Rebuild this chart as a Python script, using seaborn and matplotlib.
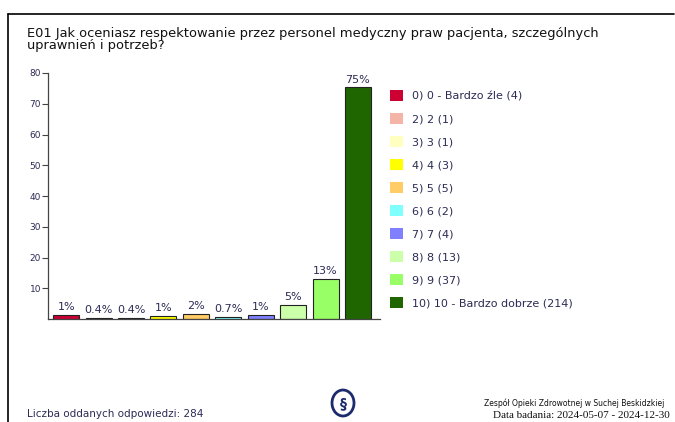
import matplotlib
matplotlib.use("Agg")
import matplotlib.pyplot as plt
from matplotlib.patches import Patch, Ellipse
from matplotlib.lines import Line2D
import seaborn as sns
import pandas as pd

# data
categories = ["0", "2", "3", "4", "5", "6", "7", "8", "9", "10"]
counts = [4, 1, 1, 3, 5, 2, 4, 13, 37, 214]
legend_labels = [
    "0) 0 - Bardzo źle (4)", "2) 2 (1)", "3) 3 (1)", "4) 4 (3)", "5) 5 (5)",
    "6) 6 (2)", "7) 7 (4)", "8) 8 (13)", "9) 9 (37)", "10) 10 - Bardzo dobrze (214)",
]
bar_labels = ["1%", "0.4%", "0.4%", "1%", "2%", "0.7%", "1%", "5%", "13%", "75%"]
colors = ["#cc0033", "#f4b4a8", "#ffffc0", "#ffff00", "#ffcc66",
          "#80ffff", "#8080ff", "#ccffaa", "#99ff66", "#1f6600"]
total = sum(counts)

df = pd.DataFrame({"cat": categories,
                   "pct": [c / total * 100 for c in counts]})

sns.set_style("white")
plt.rcParams["font.family"] = ["DejaVu Sans"]
navy = "#2b2b55"

fig = plt.figure(figsize=(6.75, 4.22), dpi=100)
W, H = 675, 422
ax = fig.add_axes([48 / W, 1 - 319 / H, 332 / W, 246 / H])

sns.barplot(data=df, x="cat", y="pct", hue="cat", palette=colors, saturation=1,
            legend=False, width=0.8, edgecolor="#222222", linewidth=0.8, ax=ax)
ax.set_xlim(-0.56, 9.68)
ax.set_ylim(0, 80)
ax.set_yticks(range(10, 81, 10))
ax.tick_params(axis="y", left=True, length=4, width=0.8, color="#444444",
               labelsize=6.5, labelcolor=navy, pad=1)
ax.set_xticks([])
ax.set_xlabel("")
ax.set_ylabel("")
for s in ["top", "right"]:
    ax.spines[s].set_visible(False)
for s in ["left", "bottom"]:
    ax.spines[s].set_color("#444444")
    ax.spines[s].set_linewidth(0.9)

# one container per hue level, in category order
for i, cont in enumerate(ax.containers):
    ax.bar_label(cont, labels=[bar_labels[i]], padding=2, fontsize=8, color=navy)

handles = [Patch(facecolor=c, edgecolor="none") for c in colors]
fig.legend(handles, legend_labels, loc="upper left",
           bbox_to_anchor=(390 / W, 1 - 90 / H), frameon=False,
           fontsize=8, labelcolor=navy, handlelength=1.2, handleheight=1.2,
           handletextpad=0.8, labelspacing=1.04, borderpad=0, borderaxespad=0)

fig.text(27 / W, 1 - 27 / H,
         "E01 Jak oceniasz respektowanie przez personel medyczny praw pacjenta, szczególnych\nuprawnień i potrzeb?",
         fontsize=9.4, va="top", ha="left", color="#111111", linespacing=0.95)

# frame lines
fig.add_artist(Line2D([8 / W, 674 / W], [1 - 14 / H, 1 - 14 / H], color="black", lw=1.2))
fig.add_artist(Line2D([8 / W, 8 / W], [1 - 14 / H, 0], color="black", lw=1.2))

# footer
fig.text(27 / W, 1 - 414 / H, "Liczba oddanych odpowiedzi: 284", fontsize=7.5,
         color=navy, va="center", ha="left")
fig.add_artist(Ellipse((343 / W, 1 - 403 / H), 22 / W, 26 / H, fill=False,
                       edgecolor="#1c2a6e", lw=2))
fig.text(343 / W, 1 - 403 / H, "§", fontsize=10, color="#1c2a6e",
         ha="center", va="center", fontweight="bold")
fig.text(664 / W, 1 - 403 / H, "Zespół Opieki Zdrowotnej w Suchej Beskidzkiej",
         fontsize=5.5, color="#111111", ha="right", va="center")
fig.text(670 / W, 1 - 415 / H, "Data badania: 2024-05-07 - 2024-12-30",
         fontsize=8, color="#111111", ha="right", va="center",
         family=["Liberation Serif", "DejaVu Serif"])

fig.savefig("out.png", dpi=100)
